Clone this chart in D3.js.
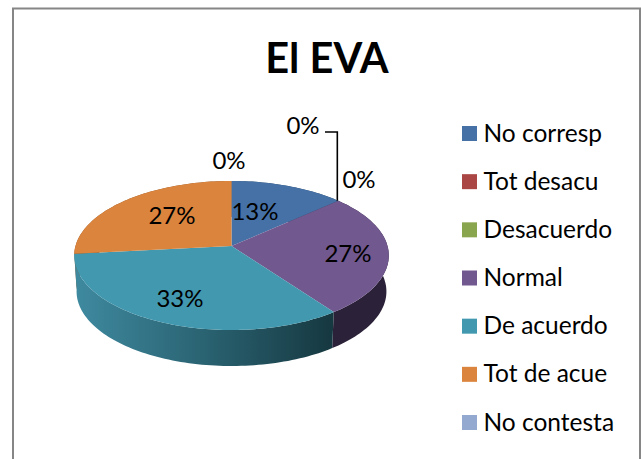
<!DOCTYPE html>
<html><head><meta charset="utf-8">
<script src="https://cdn.jsdelivr.net/npm/d3@7"></script>
<style>html,body{margin:0;padding:0;background:#fff}svg{display:block}text{font-family:Lato,"Open Sans",sans-serif;fill:#000}</style>
</head><body><div id="c"></div>
<script>
const title = "El EVA";
const categories = ["No corresp","Tot desacu","Desacuerdo","Normal","De acuerdo","Tot de acue","No contesta"];
const values = [2,0,0,4,5,4,0];
const colors = ["#4571a6","#aa4643","#89a54e","#71588f","#4198af","#db843d","#93a9cf"];
const wallColors = ["#2c4766","#6a2c2a","#556631","#2b2139","#3a8196","#8a5226","#5c6a82"];

const W=641,H=459;
const svg=d3.select("#c").append("svg").attr("width",W).attr("height",H);
svg.append("rect").attr("x",13).attr("y",8.5).attr("width",627).attr("height",H+20)
  .attr("fill","#fff").attr("stroke","#868686").attr("stroke-width",2);
svg.append("text").attr("x",327).attr("y",73).attr("text-anchor","middle")
  .attr("font-size",41.5).attr("font-weight",700).text(title);

const cx=231.5,cy=246,A=156,B=73.3,k=0.1275,depth=36,lowerScale=0.985;
const project=(t,dy=0,s=1)=>{const w=1+k*Math.cos(t);return [cx+s*A*Math.sin(t)/w,cy-B*Math.cos(t)/w+dy];};
const arcs=d3.pie().sort(null).value(d=>d)(values);
const total=d3.sum(values);
const sample=(a0,a1,dy,s)=>{const n=Math.max(2,Math.ceil((a1-a0)*40));return d3.range(n+1).map(i=>project(a0+(a1-a0)*i/n,dy,s));};
const line=d3.line();

const defs=svg.append("defs");
const g=defs.append("linearGradient").attr("id","tealWall").attr("gradientUnits","userSpaceOnUse")
  .attr("x1",74).attr("x2",333).attr("y1",0).attr("y2",0);
g.append("stop").attr("offset",0).attr("stop-color","#3f8aa0");
g.append("stop").attr("offset",0.5).attr("stop-color","#2a6372");
g.append("stop").attr("offset",1).attr("stop-color","#163840");

const pie=svg.append("g");
const visible=arcs.filter(d=>d.value>0);
const farFirst=visible.slice().sort((a,b)=>Math.cos((b.startAngle+b.endAngle)/2)-Math.cos((a.startAngle+a.endAngle)/2)).reverse().reverse();
farFirst.slice().sort((a,b)=>Math.cos((b.startAngle+b.endAngle)/2)-Math.cos((a.startAngle+a.endAngle)/2)).forEach(d=>{
  const top=sample(d.startAngle,d.endAngle,0,1), bot=sample(d.startAngle,d.endAngle,depth,lowerScale).reverse();
  pie.append("path").attr("d",line(top.concat(bot))+"Z")
    .attr("fill",d.index===4?"url(#tealWall)":wallColors[d.index]);
});
visible.forEach(d=>{
  pie.append("path").attr("d",line([[cx,cy]].concat(sample(d.startAngle,d.endAngle,0,1)))+"Z")
    .attr("fill",colors[d.index]);
});

const labelLayout=[[255,212],[359,180],[303,126],[348,254],[180,299],[172,216],[229,161]];
const pct=d3.format(".0%");
svg.append("g").selectAll("text").data(arcs).join("text")
  .attr("x",(d,i)=>labelLayout[i][0]).attr("y",(d,i)=>labelLayout[i][1]+8)
  .attr("text-anchor","middle").attr("font-size",24)
  .text(d=>pct(d.value/total));

const edge=project(arcs[2].startAngle);
svg.append("path").attr("d",`M325,132H${edge[0]-1}V${edge[1]}`).attr("fill","none").attr("stroke","#000").attr("stroke-width",1.6);

const ly=d3.scalePoint().domain(categories).range([133.5,422.5]);
const lg=svg.append("g").selectAll("g").data(categories).join("g").attr("transform",d=>`translate(462,${ly(d)})`);
lg.append("rect").attr("x",0).attr("y",-7.5).attr("width",15).attr("height",15).attr("fill",(d,i)=>colors[i]);
lg.append("text").attr("x",21.5).attr("y",8).attr("font-size",24.5).text(d=>d);
</script></body></html>
